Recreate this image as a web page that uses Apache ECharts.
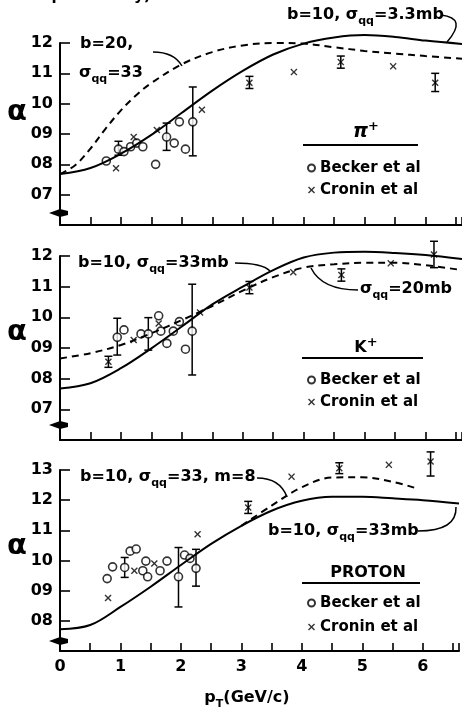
<!DOCTYPE html>
<html>
<head>
<meta charset="utf-8">
<title>alpha vs pT</title>
<script src="https://cdn.jsdelivr.net/npm/echarts@6.0.0/dist/echarts.min.js"></script>
<style>
    html, body { margin: 0; padding: 0; background: #fff; }
    #chart { width: 462px; height: 709px; }
</style>
</head>
<body>
<div id="chart"></div>
<script>
// values: x = pT (GeV/c), y = alpha
// error bars are [x, low, high]

// --- pi+ panel ---
var piSolid = [[0, 0.768], [0.5, 0.788], [1, 0.835], [1.5, 0.897], [2, 0.97], [2.5, 1.043], [3, 1.108],
    [3.5, 1.162], [4, 1.198], [4.5, 1.218], [5, 1.226], [5.5, 1.22], [6, 1.208], [6.6, 1.197]];
var piDashed = [[0, 0.768], [0.25, 0.797], [0.5, 0.852], [0.75, 0.918], [1, 0.978], [1.25, 1.028], [1.5, 1.068], [2, 1.13],
    [2.5, 1.17], [3, 1.192], [3.5, 1.2], [4, 1.198], [4.5, 1.186], [5, 1.174], [5.5, 1.165], [6, 1.157], [6.6, 1.148]];
var piBecker = [[0.76, 0.811], [0.96, 0.85], [1.05, 0.842], [1.16, 0.858], [1.26, 0.87], [1.36, 0.858], [1.57, 0.80],
    [1.75, 0.89], [1.875, 0.87], [1.96, 0.94], [2.06, 0.85], [2.18, 0.94]];
var piBeckerErr = [[0.96, 0.83, 0.876], [1.75, 0.846, 0.936], [2.18, 0.828, 1.055]];
var piCronin = [[0.92, 0.787], [1.21, 0.89], [1.59, 0.913], [2.33, 0.98], [3.11, 1.069], [3.84, 1.104], [4.61, 1.137],
    [5.47, 1.123], [6.16, 1.069]];
var piCroninErr = [[3.11, 1.05, 1.09], [4.61, 1.117, 1.157], [6.16, 1.04, 1.1]];

// --- K+ panel ---
var kSolid = [[0, 0.768], [0.5, 0.785], [1, 0.834], [1.5, 0.899], [2, 0.97], [2.5, 1.042], [3, 1.10], [3.5, 1.154],
    [4, 1.195], [4.5, 1.211], [5, 1.214], [5.5, 1.21], [6, 1.203], [6.6, 1.19]];
var kDashed = [[0, 0.866], [0.5, 0.883], [1, 0.91], [1.5, 0.948], [2, 0.991], [2.5, 1.037], [3, 1.087], [3.5, 1.131],
    [4, 1.162], [4.5, 1.173], [5, 1.178], [5.5, 1.178], [6, 1.17], [6.6, 1.154]];
var kBecker = [[0.94, 0.935], [1.05, 0.959], [1.33, 0.946], [1.45, 0.946], [1.62, 1.005], [1.655, 0.955], [1.755, 0.915],
    [1.86, 0.955], [1.96, 0.986], [2.06, 0.896], [2.17, 0.955]];
var kBeckerErr = [[0.94, 0.877, 0.997], [1.45, 0.893, 0.999], [2.17, 0.812, 1.108]];
var kCronin = [[0.795, 0.855], [1.21, 0.926], [1.62, 0.98], [2.30, 1.016], [3.11, 1.097], [3.83, 1.147], [4.62, 1.138],
    [5.43, 1.176], [6.14, 1.205]];
var kCroninErr = [[0.795, 0.837, 0.873], [3.11, 1.077, 1.117], [4.62, 1.118, 1.158], [6.14, 1.162, 1.248]];

// --- proton panel ---
var pSolid = [[0, 0.772], [0.5, 0.786], [1, 0.846], [1.5, 0.913], [2, 0.985], [2.5, 1.055], [3, 1.115], [3.5, 1.165],
    [4, 1.198], [4.5, 1.211], [5, 1.211], [5.5, 1.206], [6, 1.2], [6.6, 1.189]];
var pDashed = [[3, 1.115], [3.5, 1.182], [4, 1.243], [4.5, 1.275], [5, 1.276], [5.5, 1.261], [5.9, 1.239]];
var pBecker = [[0.78, 0.94], [0.87, 0.979], [1.07, 0.977], [1.16, 1.031], [1.26, 1.038], [1.37, 0.966], [1.42, 0.998],
    [1.45, 0.946], [1.655, 0.966], [1.77, 0.998], [1.96, 0.946], [2.06, 1.018], [2.15, 1.007], [2.25, 0.974]];
var pBeckerErr = [[1.07, 0.944, 1.01], [1.96, 0.846, 1.043], [2.25, 0.915, 1.037]];
var pCronin = [[0.795, 0.876], [1.23, 0.966], [1.56, 0.99], [2.276, 1.087], [3.113, 1.176], [3.83, 1.278], [4.62, 1.306],
    [5.44, 1.317], [6.13, 1.328]];
var pCroninErr = [[3.113, 1.156, 1.196], [4.62, 1.288, 1.324], [6.13, 1.28, 1.36]];

// axis ranges per panel
var yMins = [0.6, 0.6, 0.7];
var yMaxs = [1.2, 1.2, 1.3];

var FONT = 'DejaVu Sans';
var chart = echarts.init(document.getElementById('chart'));

var CROSS = 'path://M0,1.4L1.4,0L5,3.6L8.6,0L10,1.4L6.4,5L10,8.6L8.6,10L5,6.4L1.4,10L0,8.6L3.6,5Z';

function errorBar(params, api) {
    var top = api.coord([api.value(0), api.value(2)]);
    var bot = api.coord([api.value(0), api.value(1)]);
    var w = 4;
    var st = { stroke: '#000', lineWidth: 1.5 };
    return {
        type: 'group',
        children: [
            { type: 'line', shape: { x1: top[0], y1: top[1], x2: bot[0], y2: bot[1] }, style: st },
            { type: 'line', shape: { x1: top[0] - w, y1: top[1], x2: top[0] + w, y2: top[1] }, style: st },
            { type: 'line', shape: { x1: bot[0] - w, y1: bot[1], x2: bot[0] + w, y2: bot[1] }, style: st }
        ]
    };
}

function panelSeries(i, solid, dashed, becker, beckerErr, cronin, croninErr) {
    return [
        {
            type: 'line', xAxisIndex: i, yAxisIndex: i, data: solid, smooth: 0.35,
            showSymbol: false, clip: false, silent: true,
            lineStyle: { color: '#000', width: 2 }
        },
        {
            type: 'line', xAxisIndex: i, yAxisIndex: i, data: dashed, smooth: 0.35,
            showSymbol: false, clip: false, silent: true,
            lineStyle: { color: '#000', width: 2, type: [7, 5] }
        },
        {
            type: 'custom', xAxisIndex: i, yAxisIndex: i, data: beckerErr.concat(croninErr),
            encode: { x: 0, y: [1, 2] }, renderItem: errorBar, silent: true
        },
        {
            name: 'Becker et al', type: 'scatter', xAxisIndex: i, yAxisIndex: i, data: becker,
            symbol: 'circle', symbolSize: 8, clip: false,
            itemStyle: { color: '#fff', borderColor: '#000', borderWidth: 1.6 }
        },
        {
            name: 'Cronin et al', type: 'scatter', xAxisIndex: i, yAxisIndex: i, data: cronin,
            symbol: CROSS, symbolSize: 7, clip: false,
            itemStyle: { color: '#000' }
        }
    ];
}

function yTickLabel(v, min) {
    var n = Math.round(v * 10);
    if (n <= Math.round(min * 10)) return '';
    return (n < 10 ? '0' : '') + n;
}

var grids = [
    { left: 60, width: 402, top: 43, height: 182 },
    { left: 60, width: 402, top: 256, height: 184 },
    { left: 60, width: 402, top: 470, height: 181 }
];

var xAxes = [], yAxes = [];
for (var i = 0; i < 3; i++) {
    xAxes.push({
        type: 'value', gridIndex: i, min: 0, max: 6.6, interval: 0.5,
        axisLine: { onZero: false, lineStyle: { color: '#000', width: 2 } },
        axisTick: { inside: true, length: 8, lineStyle: { color: '#000', width: 1.6 } },
        splitLine: { show: false },
        axisLabel: {
            show: i === 2, color: '#000', fontSize: 16, fontWeight: 'bold', fontFamily: FONT, margin: 8,
            formatter: function (v) { return Math.abs(v - Math.round(v)) < 1e-6 ? String(Math.round(v)) : ''; }
        }
    });
    (function (min) {
        yAxes.push({
            type: 'value', gridIndex: i, min: min, max: yMaxs[i], interval: 0.1,
            axisLine: { lineStyle: { color: '#000', width: 2 } },
            axisTick: { inside: true, length: 10, lineStyle: { color: '#000', width: 1.6 } },
            splitLine: { show: false },
            axisLabel: {
                color: '#000', fontSize: 16, fontWeight: 'bold', fontFamily: FONT, margin: 7,
                formatter: function (v) { return yTickLabel(v, min); }
            }
        });
    })(yMins[i]);
}

var rich = {
    t: { fontSize: 16, fontWeight: 'bold', fontFamily: FONT, color: '#000', lineHeight: 24, verticalAlign: 'middle' },
    s: { fontSize: 11, fontWeight: 'bold', fontFamily: FONT, color: '#000', lineHeight: 24, verticalAlign: 'bottom' },
    L: { fontSize: 19, fontWeight: 'bold', fontFamily: FONT, color: '#000', lineHeight: 24, verticalAlign: 'middle', fontStyle: 'italic' },
    u: { fontSize: 13, fontWeight: 'bold', fontFamily: FONT, color: '#000', lineHeight: 24, verticalAlign: 'top' },
    P: { fontSize: 16, fontWeight: 'bold', fontFamily: FONT, color: '#000', lineHeight: 24, verticalAlign: 'middle' }
};

function label(x, y, text, align) {
    return {
        type: 'text', x: x, y: y, silent: true,
        style: { text: text, rich: rich, fill: '#000', align: align || 'left', verticalAlign: 'middle', font: 'bold 16px ' + FONT }
    };
}
function leader(x1, y1, cx, cy, x2, y2) {
    return {
        type: 'bezierCurve', silent: true,
        shape: { x1: x1, y1: y1, cpx1: cx, cpy1: cy, x2: x2, y2: y2 },
        style: { stroke: '#000', lineWidth: 1.5, fill: null }
    };
}
function rule(x1, x2, y) {
    return { type: 'line', silent: true, shape: { x1: x1, y1: y, x2: x2, y2: y }, style: { stroke: '#000', lineWidth: 1.8 } };
}
function axisBreak(y) {
    return {
        type: 'polygon', silent: true,
        shape: { points: [[49, y], [60, y - 4], [68, y - 2], [68, y + 2], [60, y + 4]] },
        style: { fill: '#000' }
    };
}
function alpha(y) {
    return {
        type: 'text', x: 7, y: y, silent: true,
        style: { text: '\u03b1', fill: '#000', verticalAlign: 'middle', font: 'bold 29px ' + FONT }
    };
}

var SIG = '{t|\u03c3}{s|qq}';

var graphics = [
    // cut-off caption line above the figure
    { type: 'text', x: 0, y: -11, silent: true, style: { text: 'ies of pT to unity)', fill: '#000', font: 'bold 15px ' + FONT } },
    alpha(112), alpha(332), alpha(546),
    axisBreak(213), axisBreak(425), axisBreak(641),

    // pi+ panel
    label(80, 44, '{t|b=20,}'),
    label(79, 73, SIG + '{t|=33}'),
    leader(153, 52, 174, 52, 182, 66),
    label(287, 15, '{t|b=10, }' + SIG + '{t|=3.3mb}'),
    leader(441, 15, 468, 18, 447, 42),
    label(366, 132, '{L|\u03c0}{u|+}', 'center'),
    rule(303, 418, 145),

    // K+ panel
    label(78, 263, '{t|b=10, }' + SIG + '{t|=33mb}'),
    leader(235, 263, 262, 263, 270, 271),
    label(360, 289, SIG + '{t|=20mb}'),
    leader(358, 290, 322, 290, 311, 268),
    label(366, 348, '{P|K}{u|+}', 'center'),
    rule(302, 423, 358),

    // proton panel
    label(80, 477, '{t|b=10, }' + SIG + '{t|=33, m=8}'),
    leader(257, 478, 280, 478, 287, 497),
    label(268, 531, '{t|b=10, }' + SIG + '{t|=33mb}'),
    leader(418, 531, 457, 531, 456, 507),
    label(368, 573, '{P|PROTON}', 'center'),
    rule(302, 420, 583),

    // x axis title
    label(247, 698, '{P|p}{s|T}{P|(GeV/c)}', 'center')
];

function legendAt(top, gap) {
    return {
        left: 302, top: top, orient: 'vertical', selectedMode: false,
        itemWidth: 7, itemHeight: 7, itemGap: gap,
        data: ['Becker et al', 'Cronin et al'],
        textStyle: { color: '#000', fontSize: 15, fontWeight: 'bold', fontFamily: FONT, lineHeight: 16 }
    };
}

var option = {
    backgroundColor: '#fff',
    animation: false,
    grid: grids,
    xAxis: xAxes,
    yAxis: yAxes,
    legend: [legendAt(155, 6), legendAt(367, 6), legendAt(590, 8)],
    graphic: graphics,
    series: []
        .concat(panelSeries(0, piSolid, piDashed, piBecker, piBeckerErr, piCronin, piCroninErr))
        .concat(panelSeries(1, kSolid, kDashed, kBecker, kBeckerErr, kCronin, kCroninErr))
        .concat(panelSeries(2, pSolid, pDashed, pBecker, pBeckerErr, pCronin, pCroninErr))
};

chart.setOption(option);
</script>
</body>
</html>
